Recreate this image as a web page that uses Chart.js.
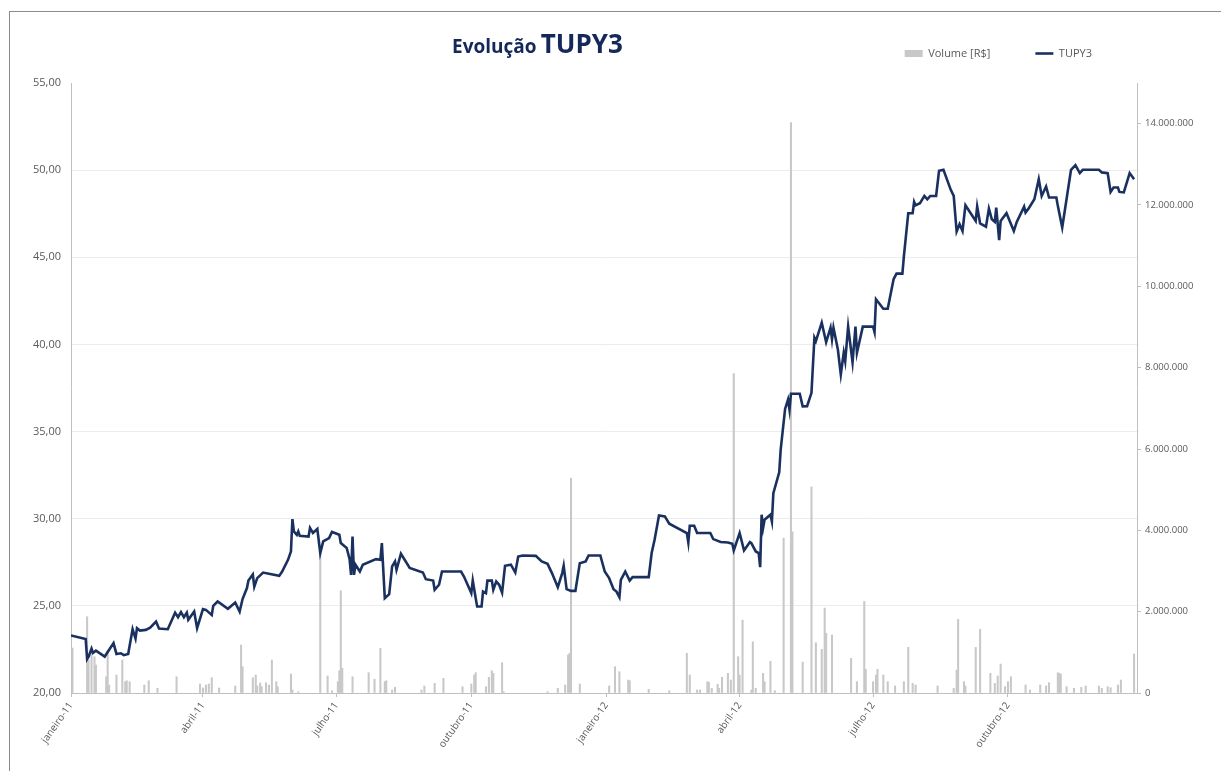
<!DOCTYPE html>
<html>
<head>
<meta charset="UTF-8">
<title>Evolução TUPY3</title>
<script src="https://cdn.jsdelivr.net/npm/chart.js"></script>
<style>
html, body { margin: 0; padding: 0; background: #fff; overflow: hidden; }
#wrap { position: relative; width: 1221px; height: 771px; }
#frame { position: absolute; left: 9px; top: 11px; width: 1300px; height: 900px; border: 1px solid #8c8c8c; }
#titulo { position: absolute; left: 452px; top: 25px; line-height: 36px; font-family: "Open Sans", sans-serif; font-weight: bold; color: #14285a; white-space: nowrap; }
#titulo .a { font-size: 19px; }
#titulo .b { font-size: 26px; }
canvas { position: absolute; left: 0; top: 0; }
</style>
</head>
<body>
<div id="wrap">
<div id="frame"></div>
<canvas id="myChart" width="1221" height="771"></canvas>
<div id="titulo"><span class="a">Evolução</span> <span class="b">TUPY3</span></div>
</div>

<script>
// cotação TUPY3 (R$)
const priceDates = [
 '2011-01-01','2011-01-11','2011-01-12','2011-01-13','2011-01-15','2011-01-16','2011-01-18','2011-01-24','2011-01-30',
 '2011-02-01','2011-02-04','2011-02-06','2011-02-09','2011-02-12','2011-02-14','2011-02-15','2011-02-17','2011-02-21','2011-02-24','2011-02-28',
 '2011-03-02','2011-03-08','2011-03-13','2011-03-15','2011-03-17','2011-03-19','2011-03-21','2011-03-22','2011-03-26','2011-03-28',
 '2011-04-01','2011-04-03','2011-04-07','2011-04-08','2011-04-11','2011-04-18','2011-04-23','2011-04-26','2011-04-28',
 '2011-05-01','2011-05-02','2011-05-05','2011-05-06','2011-05-08','2011-05-12','2011-05-16','2011-05-23','2011-05-25','2011-05-29','2011-05-31',
 '2011-06-01','2011-06-02','2011-06-04','2011-06-05','2011-06-06','2011-06-12','2011-06-13','2011-06-15','2011-06-18','2011-06-20','2011-06-22','2011-06-26','2011-06-28',
 '2011-07-03','2011-07-04','2011-07-08','2011-07-10','2011-07-11','2011-07-12','2011-07-13','2011-07-14','2011-07-17','2011-07-19','2011-07-28','2011-07-31',
 '2011-08-01','2011-08-03','2011-08-06','2011-08-08','2011-08-10','2011-08-11','2011-08-14','2011-08-20','2011-08-29','2011-08-31',
 '2011-09-05','2011-09-06','2011-09-09','2011-09-11','2011-09-24','2011-09-26',
 '2011-10-01','2011-10-02','2011-10-04','2011-10-05','2011-10-08','2011-10-09','2011-10-11','2011-10-12','2011-10-15','2011-10-16','2011-10-18','2011-10-20','2011-10-22','2011-10-24','2011-10-28','2011-10-31',
 '2011-11-02','2011-11-05','2011-11-14','2011-11-18','2011-11-22','2011-11-25','2011-11-29',
 '2011-12-02','2011-12-03','2011-12-05','2011-12-08','2011-12-11','2011-12-14','2011-12-18','2011-12-20','2011-12-28','2011-12-31',
 '2012-01-03','2012-01-06','2012-01-08','2012-01-10','2012-01-11','2012-01-14','2012-01-17','2012-01-19','2012-01-30',
 '2012-02-01','2012-02-03','2012-02-06','2012-02-10','2012-02-13','2012-02-25','2012-02-26','2012-02-27',
 '2012-03-01','2012-03-03','2012-03-12','2012-03-14','2012-03-19','2012-03-24','2012-03-27','2012-03-28',
 '2012-04-01','2012-04-04','2012-04-08','2012-04-09','2012-04-12','2012-04-14','2012-04-15','2012-04-16','2012-04-17','2012-04-18','2012-04-22','2012-04-23','2012-04-24','2012-04-28','2012-04-29',
 '2012-05-02','2012-05-04','2012-05-05','2012-05-06','2012-05-12','2012-05-14','2012-05-17','2012-05-20','2012-05-22','2012-05-23','2012-05-27','2012-05-30',
 '2012-06-02','2012-06-03','2012-06-04','2012-06-07','2012-06-09','2012-06-11','2012-06-12','2012-06-14','2012-06-17','2012-06-19','2012-06-20','2012-06-24',
 '2012-07-01','2012-07-02','2012-07-03','2012-07-08','2012-07-11','2012-07-15','2012-07-17','2012-07-21','2012-07-22','2012-07-25','2012-07-28','2012-07-29','2012-07-30',
 '2012-08-02','2012-08-05','2012-08-07','2012-08-09','2012-08-13','2012-08-15','2012-08-18','2012-08-23','2012-08-25','2012-08-27','2012-08-29','2012-08-31',
 '2012-09-02','2012-09-09','2012-09-10','2012-09-12','2012-09-16','2012-09-18','2012-09-20','2012-09-22','2012-09-23','2012-09-25','2012-09-26','2012-09-30',
 '2012-10-05','2012-10-07','2012-10-12','2012-10-13','2012-10-15','2012-10-19','2012-10-22','2012-10-24','2012-10-27','2012-10-29',
 '2012-11-03','2012-11-04','2012-11-07','2012-11-13','2012-11-16','2012-11-19','2012-11-21',
 '2012-12-02','2012-12-04','2012-12-08','2012-12-10','2012-12-12','2012-12-15','2012-12-16','2012-12-19','2012-12-23','2012-12-26'
];
const priceValues = [
 23.30,23.10,21.95,22.09,22.55,22.30,22.43,22.09,22.86,
 22.24,22.28,22.17,22.24,23.66,23.12,23.72,23.58,23.62,23.75,24.10,
 23.70,23.66,24.61,24.35,24.64,24.35,24.61,24.20,24.67,23.72,
 24.81,24.77,24.48,25.00,25.25,24.83,25.19,24.67,25.39,
 26.02,26.45,26.80,26.10,26.59,26.91,26.84,26.72,26.97,27.64,28.12,
 29.98,29.27,29.08,29.27,29.02,28.98,29.47,29.18,29.41,28.03,28.70,28.89,29.24,
 29.08,28.60,28.32,27.68,26.78,28.98,26.78,27.36,26.97,27.36,27.68,27.64,
 28.60,25.44,25.67,27.26,27.55,27.07,27.99,27.17,26.91,26.53,
 26.45,25.92,26.21,26.97,26.97,26.68,
 25.73,26.45,25.44,24.96,24.96,25.82,25.73,26.45,26.45,25.92,26.40,26.21,25.76,27.30,27.36,26.91,
 27.83,27.89,27.87,27.55,27.41,26.88,26.07,
 26.88,27.30,25.96,25.86,25.86,27.45,27.55,27.89,27.89,26.97,
 26.59,25.96,25.82,25.50,26.49,26.97,26.45,26.65,26.65,
 28.03,28.79,30.19,30.13,29.71,29.18,28.64,29.60,
 29.60,29.18,29.18,28.83,28.66,28.64,28.56,28.18,
 29.18,28.18,28.66,28.60,28.12,28.03,27.22,30.23,29.47,29.94,30.23,29.84,31.47,32.66,33.97,
 36.30,36.84,36.26,37.17,37.17,36.45,36.46,37.22,40.38,40.19,41.25,40.13,
 40.96,40.29,40.96,39.71,38.28,39.52,39.04,41.02,38.98,41.02,39.52,41.02,
 41.02,40.71,42.59,42.05,42.05,43.74,44.06,44.06,45.04,47.53,47.53,48.18,47.99,
 48.10,48.52,48.33,48.52,48.52,49.96,50.02,48.87,48.52,46.48,46.90,46.51,
 47.99,47.09,47.91,46.95,46.76,47.79,47.18,47.03,47.85,45.99,47.09,47.53,
 46.51,47.03,47.91,47.57,47.79,48.33,49.48,48.52,49.06,48.43,
 48.43,47.95,46.71,50.02,50.29,49.83,50.02,
 50.02,49.87,49.83,48.75,49.00,49.00,48.75,48.72,49.83,49.48
];

// volume negociado (R$)
const volDates = [
 '2011-01-02','2011-01-12','2011-01-13','2011-01-15','2011-01-17','2011-01-18','2011-01-25','2011-01-26','2011-01-27',
 '2011-02-01','2011-02-05','2011-02-07','2011-02-08','2011-02-10','2011-02-20','2011-02-23',
 '2011-03-01','2011-03-14','2011-03-30',
 '2011-04-01','2011-04-03','2011-04-05','2011-04-07','2011-04-12','2011-04-23','2011-04-27','2011-04-28',
 '2011-05-05','2011-05-07','2011-05-08','2011-05-10','2011-05-11','2011-05-14','2011-05-16','2011-05-18','2011-05-21','2011-05-22','2011-05-31',
 '2011-06-01','2011-06-05','2011-06-20','2011-06-25','2011-06-28',
 '2011-07-02','2011-07-03','2011-07-04','2011-07-05','2011-07-12','2011-07-23','2011-07-27','2011-07-31',
 '2011-08-03','2011-08-04','2011-08-08','2011-08-10','2011-08-28','2011-08-30',
 '2011-09-06','2011-09-12','2011-09-25',
 '2011-10-01','2011-10-03','2011-10-04','2011-10-11','2011-10-13','2011-10-15','2011-10-16','2011-10-22','2011-10-23',
 '2011-11-22','2011-11-29',
 '2011-12-04','2011-12-06','2011-12-07','2011-12-08','2011-12-14',
 '2012-01-03','2012-01-07','2012-01-10','2012-01-16','2012-01-17','2012-01-30',
 '2012-02-13','2012-02-25','2012-02-27',
 '2012-03-03','2012-03-05','2012-03-10','2012-03-11','2012-03-13','2012-03-17','2012-03-18','2012-03-20','2012-03-24','2012-03-26','2012-03-28','2012-03-31',
 '2012-04-01','2012-04-03','2012-04-09','2012-04-10','2012-04-12','2012-04-17','2012-04-18','2012-04-22','2012-04-25',
 '2012-05-01','2012-05-06','2012-05-07','2012-05-14','2012-05-20','2012-05-23','2012-05-27','2012-05-29','2012-05-30',
 '2012-06-03','2012-06-16','2012-06-20','2012-06-25','2012-06-26',
 '2012-07-01','2012-07-03','2012-07-04','2012-07-08','2012-07-11','2012-07-16','2012-07-22','2012-07-25','2012-07-28','2012-07-30',
 '2012-08-14','2012-08-25','2012-08-27','2012-08-28',
 '2012-09-01','2012-09-02','2012-09-09','2012-09-12','2012-09-19','2012-09-22','2012-09-24','2012-09-26','2012-09-29',
 '2012-10-01','2012-10-03','2012-10-13','2012-10-16','2012-10-23','2012-10-27','2012-10-29',
 '2012-11-04','2012-11-05','2012-11-06','2012-11-10','2012-11-15','2012-11-20','2012-11-23',
 '2012-12-02','2012-12-04','2012-12-08','2012-12-10','2012-12-15','2012-12-17','2012-12-26'
];
const volValues = [
 1105000,1874000,810000,1056000,892000,688000,400000,1056000,196000,
 442000,810000,278000,302000,278000,196000,302000,
 115000,400000,221000,
 123000,196000,221000,376000,123000,172000,1179000,646000,
 376000,442000,172000,246000,155000,253000,196000,810000,278000,155000,467000,
 74000,32000,3389000,418000,56000,
 278000,548000,2513000,607000,400000,499000,336000,1098000,
 278000,302000,74000,140000,74000,172000,
 238000,361000,155000,
 221000,442000,499000,155000,386000,548000,484000,744000,32000,
 32000,115000,
 196000,933000,975000,5281000,221000,
 172000,646000,523000,319000,302000,91000,
 56000,975000,442000,
 74000,74000,278000,263000,115000,214000,115000,386000,484000,319000,7852000,892000,
 442000,1793000,74000,1260000,115000,484000,278000,779000,56000,
 3807000,14024000,3962000,761000,5068000,1236000,1073000,2088000,1466000,
 1425000,852000,278000,2252000,582000,
 278000,442000,582000,442000,278000,172000,278000,1122000,238000,196000,
 172000,115000,565000,1810000,
 278000,172000,1122000,1565000,484000,238000,418000,712000,155000,
 278000,400000,196000,74000,196000,172000,253000,
 499000,484000,467000,155000,115000,140000,172000,
 172000,115000,155000,130000,196000,319000,958000
];

// eixo de datas
const xStart = '2011-01-01';
const xEnd = '2012-12-28';
const xTickDates = ['2011-01-01','2011-04-01','2011-07-01','2011-10-01','2012-01-01','2012-04-01','2012-07-01','2012-10-01'];
const xTickLabels = ['janeiro-11','abril-11','julho-11','outubro-11','janeiro-12','abril-12','julho-12','outubro-12'];
const rightTicks = [0, 2000000, 4000000, 6000000, 8000000, 10000000, 12000000, 14000000];

function dayNum(s) {
	return (Date.UTC(+s.slice(0, 4), +s.slice(5, 7) - 1, +s.slice(8, 10)) - Date.UTC(2011, 0, 1)) / 864e5;
}
function milhar(v) {
	return String(Math.round(v)).replace(/\B(?=(\d{3})+(?!\d))/g, '.');
}

const cinza = '#595959';
const fonte = 'Open Sans';

const ctx = document.getElementById('myChart').getContext('2d');
const myChart = new Chart(ctx, {
	type: 'bar',
	data: {
		datasets: [{
			label: 'Volume [R$]',
			data: volDates.map((d, i) => ({x: dayNum(d), y: volValues[i]})),
			yAxisID: 'y2',
			backgroundColor: '#c8c8c8',
			borderWidth: 0,
			barThickness: 1.4,
			pointStyle: 'rect',
			order: 2
		}, {
			type: 'line',
			label: 'TUPY3',
			data: priceDates.map((d, i) => ({x: dayNum(d), y: priceValues[i]})),
			yAxisID: 'y',
			borderColor: '#1a3160',
			backgroundColor: '#1a3160',
			borderWidth: 2.6,
			pointRadius: 0,
			pointStyle: 'line',
			tension: 0,
			order: 1
		}]
	},
	options: {
		responsive: false,
		animation: false,
		layout: { padding: { top: 3, right: 0, bottom: 0, left: 0 } },
		plugins: {
			legend: {
				position: 'top',
				align: 'end',
				fullSize: false,
				labels: {
					usePointStyle: true,
					pointStyleWidth: 18,
					boxHeight: 7,
					padding: 45,
					color: cinza,
					font: { family: fonte, size: 11 },
					sort: (a, b) => a.datasetIndex - b.datasetIndex
				}
			},
			// espaço entre legenda e gráfico
			title: { display: true, text: '', fullSize: false, weight: 500, padding: { top: 13, bottom: 0 }, font: { size: 1, lineHeight: 1 } },
			tooltip: { enabled: false }
		},
		scales: {
			x: {
				type: 'linear',
				offset: false,
				min: dayNum(xStart),
				max: dayNum(xEnd),
				afterFit: s => { s.height = 78; },
				afterBuildTicks: s => { s.ticks = xTickDates.map(d => ({value: dayNum(d)})); },
				ticks: {
					autoSkip: false,
					minRotation: 55,
					maxRotation: 55,
					padding: 3,
					color: cinza,
					font: { family: fonte, size: 10 },
					callback: (v, i) => xTickLabels[i]
				},
				grid: { offset: false, drawOnChartArea: false, tickLength: 4, tickColor: '#bfbfbf' },
				border: { color: '#bfbfbf' }
			},
			y: {
				position: 'left',
				min: 20,
				max: 55,
				afterFit: s => { s.width = 71; },
				ticks: {
					stepSize: 5,
					padding: 10,
					color: cinza,
					font: { family: fonte, size: 11 },
					callback: v => v.toFixed(2).replace('.', ',')
				},
				grid: {
					drawTicks: false,
					color: c => (c.tick && c.tick.value === 55) ? 'rgba(0,0,0,0)' : '#ececec'
				},
				border: { color: '#bfbfbf' }
			},
			y2: {
				position: 'right',
				min: 0,
				max: 15000000,
				afterFit: s => { s.width = 84; },
				afterBuildTicks: s => { s.ticks = rightTicks.map(v => ({value: v})); },
				ticks: {
					padding: 4,
					color: cinza,
					font: { family: fonte, size: 9.5 },
					callback: v => milhar(v)
				},
				grid: { drawOnChartArea: false, tickLength: 4, tickColor: '#bfbfbf' },
				border: { color: '#bfbfbf' }
			}
		}
	}
}); // chartjs
</script>
</body>
</html>
